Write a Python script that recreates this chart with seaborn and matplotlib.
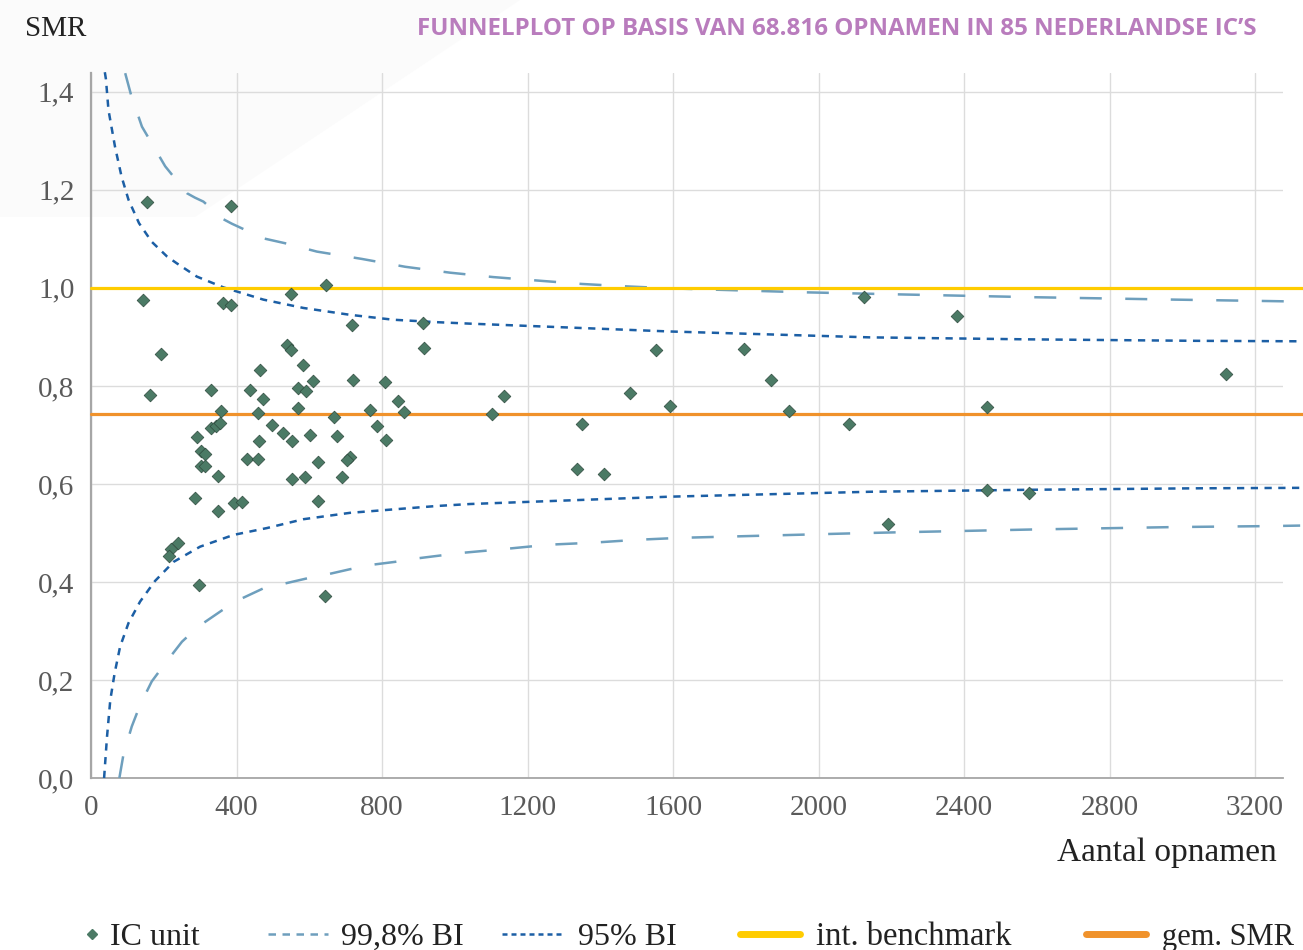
import matplotlib
matplotlib.use("Agg")
import matplotlib.pyplot as plt
from matplotlib.lines import Line2D
from matplotlib.patches import Polygon
import seaborn as sns
import pandas as pd

# ---------------- data ----------------
unit_n = [154, 386, 143, 363, 385, 192, 465, 162, 331, 438, 474, 357, 460, 330, 344, 355, 497,
          292, 461, 303, 314, 429, 460, 303, 314, 348, 286, 348, 392, 414, 238, 219, 214, 297,
          645, 551, 718, 913, 916, 540, 551, 582, 611, 721, 809, 570, 592, 844, 569, 767, 861,
          668, 785, 529, 553, 602, 676, 812, 711, 703, 623, 553, 588, 689, 624, 642,
          1102, 1134, 1349, 1335, 1409, 1481, 1553, 1591, 1795, 1869, 1918, 2084, 2124, 2382,
          3119, 2463, 2463, 2578, 2192]
unit_smr = [1.175, 1.167, 0.976, 0.969, 0.966, 0.865, 0.833, 0.782, 0.792, 0.792, 0.774, 0.748,
            0.744, 0.714, 0.719, 0.724, 0.720, 0.696, 0.688, 0.668, 0.661, 0.650, 0.650, 0.637,
            0.637, 0.617, 0.571, 0.545, 0.562, 0.564, 0.480, 0.467, 0.452, 0.394,
            1.005, 0.988, 0.924, 0.928, 0.878, 0.883, 0.873, 0.842, 0.810, 0.813, 0.807, 0.796,
            0.790, 0.770, 0.754, 0.750, 0.747, 0.737, 0.718, 0.704, 0.688, 0.699, 0.697, 0.690,
            0.654, 0.648, 0.644, 0.610, 0.615, 0.614, 0.566, 0.372,
            0.743, 0.780, 0.722, 0.630, 0.621, 0.785, 0.873, 0.758, 0.876, 0.812, 0.749, 0.723,
            0.982, 0.943, 0.825, 0.757, 0.587, 0.582, 0.518]

u95_x = [38, 41, 48, 66, 84, 103, 132, 167, 181, 209, 236, 291, 364, 474, 584, 712, 831, 951,
         1042, 1592, 2142, 2573, 3030, 3324]
u95_y = [1.440, 1.426, 1.363, 1.288, 1.227, 1.180, 1.132, 1.094, 1.084, 1.064, 1.050, 1.023,
         1.001, 0.976, 0.959, 0.945, 0.935, 0.930, 0.927, 0.911, 0.899, 0.895, 0.892, 0.891]
l95_x = [36, 44, 53, 65, 80, 103, 135, 176, 227, 300, 392, 484, 584, 712, 831, 951, 1042, 1592,
         2142, 2573, 3030, 3324]
l95_y = [0.0, 0.084, 0.159, 0.214, 0.268, 0.316, 0.360, 0.402, 0.441, 0.472, 0.496, 0.510,
         0.528, 0.541, 0.548, 0.555, 0.559, 0.574, 0.584, 0.588, 0.591, 0.592]
u998_x = [94, 110, 140, 204, 264, 286, 309, 364, 387, 419, 474, 534, 621, 745, 864, 987, 1106,
          1226, 1349, 1473, 1592, 1958, 2201, 2586, 2981, 3244, 3324]
u998_y = [1.438, 1.394, 1.329, 1.248, 1.193, 1.184, 1.176, 1.140, 1.131, 1.120, 1.101, 1.091,
          1.074, 1.059, 1.043, 1.031, 1.022, 1.015, 1.008, 1.003, 0.999, 0.991, 0.987, 0.981,
          0.976, 0.973, 0.972]
l998_x = [78, 89, 112, 135, 167, 204, 250, 295, 362, 405, 474, 534, 598, 653, 712, 772, 836, 896,
          1015, 1134, 1258, 1377, 1501, 1620, 2086, 2201, 2586, 2981, 3244, 3324]
l998_y = [0.0, 0.047, 0.105, 0.149, 0.197, 0.234, 0.278, 0.309, 0.343, 0.363, 0.387, 0.397,
          0.408, 0.416, 0.426, 0.435, 0.441, 0.448, 0.459, 0.467, 0.476, 0.480, 0.486, 0.490,
          0.499, 0.501, 0.507, 0.512, 0.514, 0.515]

benchmark = 1.0
mean_smr = 0.743

x_ticks = [0, 400, 800, 1200, 1600, 2000, 2400, 2800, 3200]
x_tick_labels = ["0", "400", "800", "1200", "1600", "2000", "2400", "2800", "3200"]
y_ticks = [0.0, 0.2, 0.4, 0.6, 0.8, 1.0, 1.2, 1.4]
y_tick_labels = ["0,0", "0,2", "0,4", "0,6", "0,8", "1,0", "1,2", "1,4"]

title = "FUNNELPLOT OP BASIS VAN 68.816 OPNAMEN IN 85 NEDERLANDSE IC\u2019S"
legend_labels = ["IC unit", "99,8% BI", "95% BI", "int. benchmark", "gem. SMR"]

# ---------------- style ----------------
sns.set_theme(style="white")
plt.rcParams["font.family"] = ["Liberation Serif", "DejaVu Serif"]

C_POINT = "#4b7a65"
C_998 = "#6e9fbd"
C_95 = "#1c5fa5"
C_BENCH = "#ffcc00"
C_MEAN = "#f0922b"
C_GRID = "#dcdcdc"
C_TICK = "#5a5a5a"

W, H = 1303, 950
fig = plt.figure(figsize=(W / 100, H / 100), dpi=100)
fig.patch.set_facecolor("white")

# very faint background shape
fig.patches.append(Polygon([(0, 1), (520 / W, 1), (195 / W, 1 - 217 / H), (0, 1 - 217 / H)],
                           closed=True, transform=fig.transFigure, facecolor="#fbfbfb",
                           edgecolor="none", zorder=-10))

left, right, bottom, top = 91 / W, 1282.7 / W, 1 - 778 / H, 1 - 72.7 / H
ax = fig.add_axes([left, bottom, right - left, top - bottom])
ax.patch.set_alpha(0)

XMAX = 3276
YMAX = 1.439
ax.set_xlim(0, XMAX)
ax.set_ylim(0, YMAX)

# grid
ax.set_xticks(x_ticks)
ax.set_yticks(y_ticks)
ax.grid(True, axis="both", color=C_GRID, linewidth=1.0, zorder=0)
ax.set_axisbelow(True)

# curves
lw = 1.8
curves = [
    (u998_x, u998_y, C_998, (8.8, 9.4)),
    (l998_x, l998_y, C_998, (8.8, 9.4)),
    (u95_x, u95_y, C_95, (2.9, 2.6)),
    (l95_x, l95_y, C_95, (2.9, 2.6)),
]
for cx, cy, col, dash in curves:
    df = pd.DataFrame({"n": cx, "v": cy})
    n_before = len(ax.lines)
    sns.lineplot(data=df, x="n", y="v", ax=ax, sort=False, estimator=None,
                 color=col, linewidth=lw, zorder=3)
    for ln in ax.lines[n_before:]:
        ln.set_dashes(dash)
        ln.set_clip_on(False)

# reference lines (extend a little past the axes on the right)
ext = (W - 91) / (1282.7 - 91)
ax.axhline(benchmark, xmin=0, xmax=ext, color=C_BENCH, linewidth=2.3, zorder=4, clip_on=False)
ax.axhline(mean_smr, xmin=0, xmax=ext, color=C_MEAN, linewidth=2.3, zorder=4, clip_on=False)

# points
pts = pd.DataFrame({"n": unit_n, "smr": unit_smr})
sns.scatterplot(data=pts, x="n", y="smr", ax=ax, marker="D", s=42, color=C_POINT,
                edgecolor="#2e4a3d", linewidth=0.5, zorder=5)

# axes styling
ax.set_xlabel("")
ax.set_ylabel("")
ax.set_xticklabels(x_tick_labels)
ax.set_yticklabels(y_tick_labels)
ax.tick_params(axis="both", length=0, labelsize=21, labelcolor=C_TICK)
ax.tick_params(axis="x", pad=12)
ax.tick_params(axis="y", pad=12)
for s in ["top", "right"]:
    ax.spines[s].set_visible(False)
ax.spines["left"].set_color("#a6a6a6")
ax.spines["left"].set_linewidth(1.6)
ax.spines["bottom"].set_color("#a6a6a6")
ax.spines["bottom"].set_linewidth(1.3)

# texts
fig.text(25 / W, 1 - 29 / H, "SMR", fontsize=21, color="#222222", va="center", ha="left")
fig.text(1257 / W, 1 - 29 / H, title, fontsize=17.4, color="#b97cbd", fontweight="bold",
         family=["Open Sans", "DejaVu Sans"], va="center", ha="right")
fig.text(1277 / W, 1 - 853 / H, "Aantal opnamen", fontsize=24, color="#222222",
         va="center", ha="right")

# legend: one entry per block, placed like the reference
handles = [
    Line2D([], [], linestyle="none", marker="D", markersize=5, color=C_POINT),
    Line2D([], [], color=C_998, linewidth=lw, dashes=(3.0, 2.6)),
    Line2D([], [], color=C_95, linewidth=lw, dashes=(2.0, 1.6)),
    Line2D([], [], color=C_BENCH, linewidth=5),
    Line2D([], [], color=C_MEAN, linewidth=5),
]
leg_sizes = [23, 23, 23, 23.5, 22]
handle_start = [84, 268, 502, 740, 1086]
handle_len = [16, 60, 60, 60, 60]
text_start = [110, 341, 578, 816, 1162]
for h, lab, fs, hs, hl, ts in zip(handles, legend_labels, leg_sizes, handle_start,
                                  handle_len, text_start):
    em = fs * 100 / 72.0
    fig.legend([h], [lab], loc="center left", bbox_to_anchor=(hs / W, 1 - 937 / H),
               frameon=False, fontsize=fs, handlelength=hl / em,
               handletextpad=(ts - hs - hl) / em, borderaxespad=0, borderpad=0,
               labelcolor="#222222")

fig.savefig("out.png", dpi=100)
